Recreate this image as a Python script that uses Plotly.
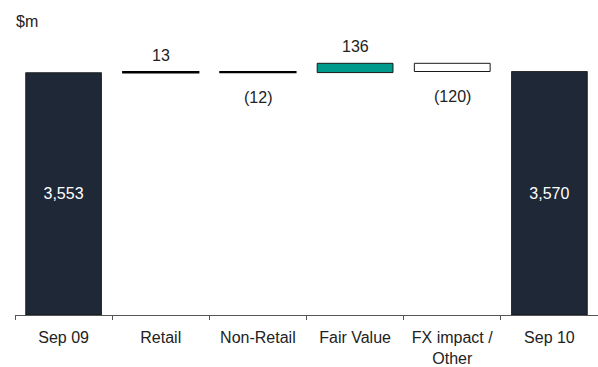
import plotly.graph_objects as go

categories = ["Sep 09", "Retail", "Non-Retail", "Fair Value", "FX impact /<br>Other", "Sep 10"]
values = [3553, 13, -12, 136, -120, 3570]
measures = ["total", "delta", "delta", "delta", "delta", "total"]
labels = ["3,553", "13", "(12)", "136", "(120)", "3,570"]

navy = "#1E2836"
teal = "#009A8C"
FONT = "Liberation Sans, Arial"
FS = 16

fig = go.Figure()

running = 0
for i, (cat, v, m, lab) in enumerate(zip(categories, values, measures, labels)):
    if m == "total":
        running = v
        fig.add_trace(go.Bar(
            x=[cat], y=[v], base=[0], width=0.78,
            marker=dict(color=navy, line=dict(color="#111111", width=0.8)),
            text=[lab], textposition="inside", insidetextanchor="middle",
            textfont=dict(color="white", size=FS, family=FONT),
            hoverinfo="skip", showlegend=False,
        ))
    else:
        base = running
        running += v
        if cat == "Fair Value":
            fill, line_c, line_w = teal, "#1a1a1a", 1
        elif v < 0 and abs(v) > 50:
            fill, line_c, line_w = "white", "#1a1a1a", 1
        else:
            fill, line_c, line_w = "black", "black", 1.5
        fig.add_trace(go.Bar(
            x=[cat], y=[v], base=[base], width=0.78,
            marker=dict(color=fill, line=dict(color=line_c, width=line_w)),
            hoverinfo="skip", showlegend=False,
        ))
        top = max(base, base + v)
        bottom = min(base, base + v)
        if v >= 0:
            fig.add_annotation(x=cat, y=top, text=lab, showarrow=False,
                               yanchor="bottom", yshift=6,
                               font=dict(size=FS, color="#222222", family=FONT))
        else:
            fig.add_annotation(x=cat, y=bottom, text=lab, showarrow=False,
                               yanchor="top", yshift=-14,
                               font=dict(size=FS, color="#222222", family=FONT))

fig.add_annotation(xref="paper", yref="paper", x=-0.002, y=1.0, xanchor="left", yanchor="bottom",
                   text="$m", showarrow=False, yshift=-12,
                   font=dict(size=FS, color="#222222", family=FONT))

fig.update_layout(
    width=598, height=367,
    margin=dict(l=15, r=0, t=20, b=50),
    paper_bgcolor="white", plot_bgcolor="white",
    barmode="overlay",
    font=dict(family=FONT, size=FS, color="#222222"),
    xaxis=dict(
        categoryorder="array", categoryarray=categories,
        showline=True, linecolor="#555555", linewidth=1,
        ticks="outside", tickson="boundaries", ticklen=4, tickcolor="#555555",
        tickfont=dict(size=FS, color="#222222"),
        ticklabelstandoff=8,
        showgrid=False, zeroline=False,
    ),
    yaxis=dict(range=[0, 4325], visible=False, showgrid=False, zeroline=False),
)

fig.write_html("out.html")
